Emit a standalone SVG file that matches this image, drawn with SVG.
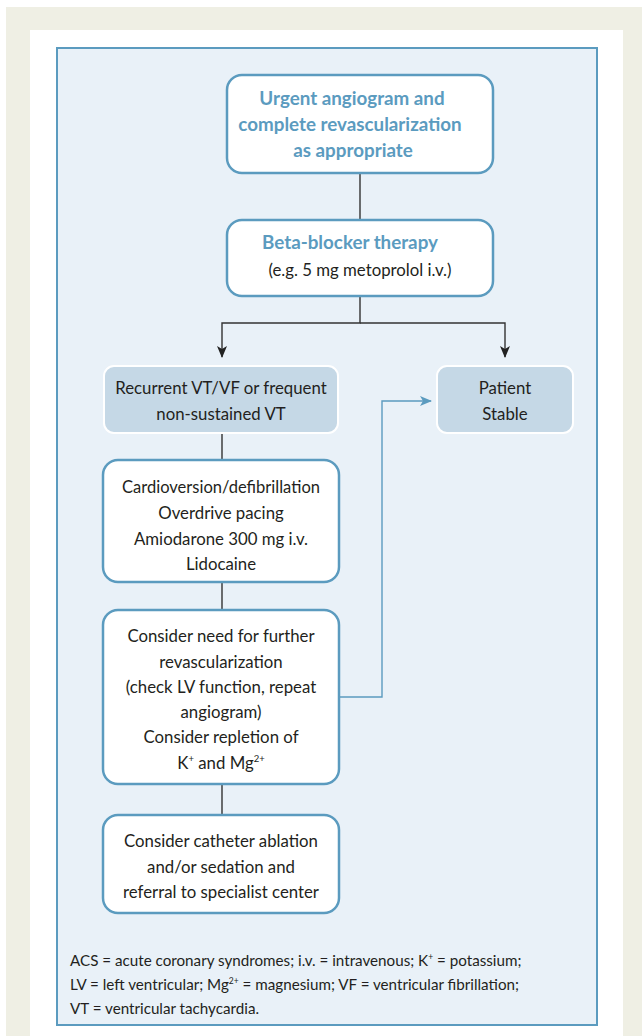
<svg xmlns="http://www.w3.org/2000/svg" width="642" height="1036" viewBox="0 0 642 1036">
<defs>
<marker id="ah" viewBox="0 0 12 12" refX="11" refY="6" markerWidth="12" markerHeight="12" markerUnits="userSpaceOnUse" orient="auto">
<path d="M0,1 L12,6 L0,11 L3,6 Z" fill="#222"/>
</marker>
<marker id="ahb" viewBox="0 0 12 12" refX="11" refY="6" markerWidth="12" markerHeight="12" markerUnits="userSpaceOnUse" orient="auto">
<path d="M0,1 L12,6 L0,11 L3,6 Z" fill="#5B9BBF"/>
</marker>
</defs>
<style>
.wbox{fill:#fff;stroke:#5B9BBF;stroke-width:2.5}
.gbox{fill:#C5D8E6;stroke:#fff;stroke-width:2}
text{font-family:Lato,"Liberation Sans",sans-serif;font-size:16.8px;fill:#231F20;text-anchor:middle}
.t{font-weight:bold;fill:#5B9BBF;font-size:18.8px}
.foot{text-anchor:start;font-size:15.2px}
.k{stroke:#333;stroke-width:1.4;fill:none}
.b{stroke:#5B9BBF;stroke-width:1.4;fill:none}
</style>
<rect x="0" y="0" width="642" height="1036" fill="#fff"/>
<rect x="6" y="7" width="636" height="1029" fill="#EFEFE4"/>
<rect x="30" y="30" width="593" height="1006" fill="#fff"/>
<rect x="57" y="48" width="540" height="977" fill="#E9F1F8" stroke="#5B9BBF" stroke-width="2"/>

<g id="connectors">
<line class="k" x1="360" y1="173" x2="360" y2="220"/>
<polyline class="k" points="360,296 360,323 222,323 222,357" marker-end="url(#ah)"/>
<polyline class="k" points="360,323 505,323 505,357" marker-end="url(#ah)"/>
<line class="k" x1="222" y1="433" x2="222" y2="460"/>
<line class="k" x1="222" y1="582" x2="222" y2="610"/>
<line class="k" x1="222" y1="784" x2="222" y2="815"/>
<polyline class="b" points="339,697 382,697 382,401 431,401" marker-end="url(#ahb)"/>
</g>

<g id="n1">
<rect class="wbox" x="227" y="75" width="266" height="98" rx="15"/>
<text class="t" x="352" y="105">Urgent angiogram and</text>
<text class="t" x="350" y="131">complete revascularization</text>
<text class="t" x="353" y="157">as appropriate</text>
</g>
<g id="n2">
<rect class="wbox" x="227" y="220" width="266" height="76" rx="15"/>
<text class="t" x="350" y="249">Beta-blocker therapy</text>
<text x="360" y="276">(e.g. 5 mg metoprolol i.v.)</text>
</g>
<g id="n3">
<rect class="gbox" x="104" y="366" width="234" height="67" rx="10"/>
<text x="221" y="394">Recurrent VT/VF or frequent</text>
<text x="221" y="420">non-sustained VT</text>
</g>
<g id="n4">
<rect class="gbox" x="437" y="366" width="136" height="67" rx="10"/>
<text x="505" y="394">Patient</text>
<text x="505" y="420">Stable</text>
</g>
<g id="n5">
<rect class="wbox" x="103" y="460" width="236" height="122" rx="15"/>
<text x="221" y="493" textLength="198" lengthAdjust="spacingAndGlyphs">Cardioversion/defibrillation</text>
<text x="221" y="519">Overdrive pacing</text>
<text x="221" y="545">Amiodarone 300 mg i.v.</text>
<text x="221" y="570">Lidocaine</text>
</g>
<g id="n6">
<rect class="wbox" x="103" y="610" width="236" height="174" rx="15"/>
<text x="221" y="642">Consider need for further</text>
<text x="221" y="668">revascularization</text>
<text x="221" y="693">(check LV function, repeat</text>
<text x="221" y="718">angiogram)</text>
<text x="221" y="743">Consider repletion of</text>
<text x="221" y="769">K<tspan font-size="9.5" dy="-7">+</tspan><tspan dy="7"> and Mg</tspan><tspan font-size="9.5" dy="-7">2+</tspan></text>
</g>
<g id="n7">
<rect class="wbox" x="103" y="815" width="236" height="98" rx="15"/>
<text x="221" y="847">Consider catheter ablation</text>
<text x="221" y="873">and/or sedation and</text>
<text x="221" y="898">referral to specialist center</text>
</g>
<g id="legend">
<text class="foot" x="70" y="966">ACS = acute coronary syndromes; i.v. = intravenous; K<tspan font-size="8.5" dy="-6">+</tspan><tspan dy="6"> = potassium;</tspan></text>
<text class="foot" x="70" y="990">LV = left ventricular; Mg<tspan font-size="8.5" dy="-6">2+</tspan><tspan dy="6"> = magnesium; VF = ventricular fibrillation;</tspan></text>
<text class="foot" x="70" y="1014">VT = ventricular tachycardia.</text>
</g>
</svg>
